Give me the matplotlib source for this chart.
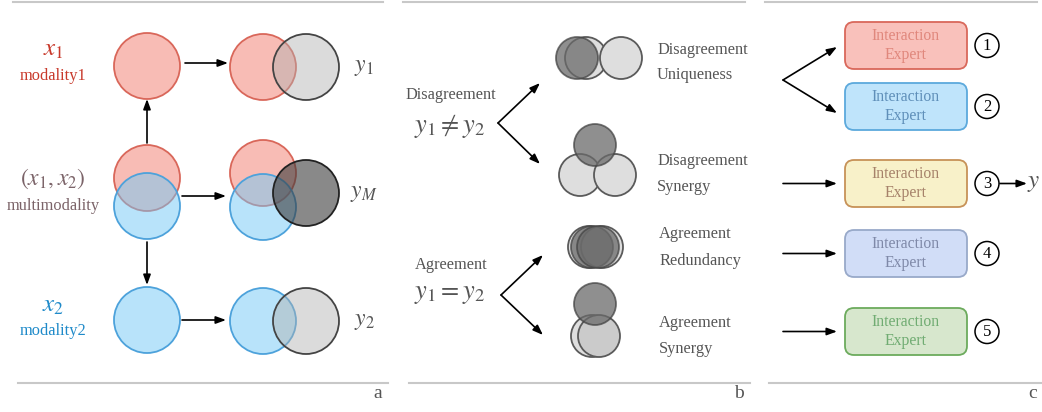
import matplotlib
matplotlib.use("Agg")
import matplotlib.pyplot as plt
from matplotlib.patches import Circle, FancyBboxPatch

plt.rcParams["font.family"] = ["Liberation Serif", "DejaVu Serif"]
plt.rcParams["mathtext.fontset"] = "stix"

# ---- panel a: modality circles (x, y, kind) ----
a_circles = [
    (147, 66, "red"), (263, 67, "red"), (306, 67, "gray"),
    (147, 178, "red"), (147, 206, "blue"),
    (263, 173, "red"), (263, 207, "blue"), (306, 193, "dark"),
    (147, 320, "blue"), (263, 321, "blue"), (306, 321, "gray"),
]
a_arrows = [((185, 63), (228, 63)), ((182, 196), (226, 196)), ((182, 320), (226, 320)),
            ((147, 143), (147, 99)), ((147, 242), (147, 285))]
a_left_labels = [(r"$x_1$", "modality1", 50, 76, "#c8392b"),
                 (r"$(x_1,x_2)$", "multimodality", 179, 206, "#7b6368"),
                 (r"$x_2$", "modality2", 306, 331, "#1f8ac9")]
a_right_labels = [(r"$y_1$", 67), (r"$y_M$", 193), (r"$y_2$", 322)]

# ---- panel b: interaction types ----
b_groups = [
    ("Disagreement", r"$y_1 \neq y_2$", 95, 126, (498, 123), [83, 164]),
    ("Agreement", r"$y_1 = y_2$", 265, 295, (501, 295), [255, 335]),
]
b_circles = [
    (586, 58, "light"), (577, 58, "darkb"), (621, 58, "light"),
    (580, 175, "light"), (615, 175, "light"), (595, 145, "darkb"),
    (589, 247, "light"), (602, 247, "light"), (592, 247, "darkb"), (598, 247, "darkb"),
    (592, 336, "light"), (599, 336, "mid"), (595, 304, "darkb"),
]
b_labels = [("Disagreement", "Uniqueness", 657, 50, 75),
            ("Disagreement", "Synergy", 657, 161, 187),
            ("Agreement", "Redundancy", 659, 234, 261),
            ("Agreement", "Synergy", 659, 323, 349)]

# ---- panel c: interaction experts ----
expert_top = [22, 83, 160, 230, 308]
expert_fill = ["#f9c1bb", "#bfe4fb", "#f8f1c9", "#d1ddf7", "#d7e7cd"]
expert_edge = ["#d9685b", "#5ca9dc", "#c79258", "#98a9c9", "#6cab5d"]
expert_text = ["#e0877c", "#5f8fb9", "#a6826a", "#7f89a8", "#70ac72"]
expert_num = ["1", "2", "3", "4", "5"]

styles = {
    "red": dict(facecolor="#f8bcb5", edgecolor="#d9675a", alpha=1.0),
    "blue": dict(facecolor="#72c8f6", edgecolor="#4da2db", alpha=0.5),
    "gray": dict(facecolor="#b0b0b0", edgecolor="#444444", alpha=0.45),
    "dark": dict(facecolor="#3a3a3a", edgecolor="#222222", alpha=0.6),
    "light": dict(facecolor="#dedede", edgecolor="#5a5a5a", alpha=1.0),
    "mid": dict(facecolor="#cbcbcb", edgecolor="#5a5a5a", alpha=1.0),
    "darkb": dict(facecolor="#6a6a6a", edgecolor="#444444", alpha=0.75),
}

fig = plt.figure(figsize=(10.42, 4.12), dpi=100)
ax = fig.add_axes([0, 0, 1, 1])
ax.set_xlim(0, 1042)
ax.set_ylim(412, 0)
ax.axis("off")

sep = "#c8c8c8"
for x0, x1 in [(13, 383), (403, 745), (765, 1037)]:
    ax.plot([x0, x1], [1.5, 1.5], color=sep, lw=1.5)
for x0, x1 in [(18, 388), (409, 750), (769, 1042)]:
    ax.plot([x0, x1], [383, 383], color=sep, lw=1.5)
for lab, x in [("a", 378), ("b", 739), ("c", 1033)]:
    ax.text(x, 393, lab, fontsize=14, color="#555555", ha="center", va="center")


def arrow(p0, p1):
    ax.annotate("", xy=p1, xytext=p0,
                arrowprops=dict(arrowstyle="-|>,head_length=0.6,head_width=0.22",
                                color="black", lw=1.2, shrinkA=0, shrinkB=0))


# panel a
for x, y, kind in a_circles:
    s = styles[kind]
    ax.add_patch(Circle((x, y), 33, facecolor=s["facecolor"], edgecolor="none", alpha=s["alpha"]))
    ax.add_patch(Circle((x, y), 33, facecolor="none", edgecolor=s["edgecolor"], lw=1.3))
for p0, p1 in a_arrows:
    arrow(p0, p1)
for sym, name, ys, yn, col in a_left_labels:
    ax.text(53, ys, sym, fontsize=18 if "(" not in sym else 17, color=col, ha="center", va="center")
    ax.text(53, yn, name, fontsize=11.8, color=col, ha="center", va="center")
for sym, y in a_right_labels:
    ax.text(364, y, sym, fontsize=17, color="#555555", ha="center", va="center")

# panel b
for word, eq, yw, ye, vtx, tips in b_groups:
    ax.text(451, yw, word, fontsize=11.8, color="#555555", ha="center", va="center")
    ax.text(450, ye, eq, fontsize=19, color="#555555", ha="center", va="center")
    for ty in tips:
        arrow(vtx, (vtx[0] + 42, ty))
for x, y, kind in b_circles:
    s = styles[kind]
    ax.add_patch(Circle((x, y), 21, facecolor=s["facecolor"], edgecolor=s["edgecolor"],
                        alpha=s["alpha"], lw=1.3))
for l1, l2, x, y1, y2 in b_labels:
    ax.text(x, y1, l1, fontsize=11.8, color="#555555", ha="left", va="center")
    ax.text(x, y2, l2, fontsize=11.8, color="#555555", ha="left", va="center")

# panel c
for i, top in enumerate(expert_top):
    ax.add_patch(FancyBboxPatch((845, top), 122, 47, boxstyle="round,pad=0,rounding_size=9",
                                facecolor=expert_fill[i], edgecolor=expert_edge[i], lw=1.3))
    ax.text(906, top + 14, "Interaction", fontsize=11.3, color=expert_text[i], ha="center", va="center")
    ax.text(906, top + 33, "Expert", fontsize=11.3, color=expert_text[i], ha="center", va="center")
    cy = top + 23.5
    ax.add_patch(Circle((987, cy), 12, facecolor="white", edgecolor="black", lw=1.1))
    ax.text(987, cy, expert_num[i], fontsize=12, color="black", ha="center", va="center")
    if i >= 2:
        arrow((783, cy), (837, cy))
arrow((783, 80), (837, 47))
arrow((783, 80), (837, 113))
arrow((1000, 183.5), (1027, 183.5))
ax.text(1034, 183, r"$y$", fontsize=18, color="#555555", ha="center", va="center")

fig.savefig("out.png", dpi=100)
